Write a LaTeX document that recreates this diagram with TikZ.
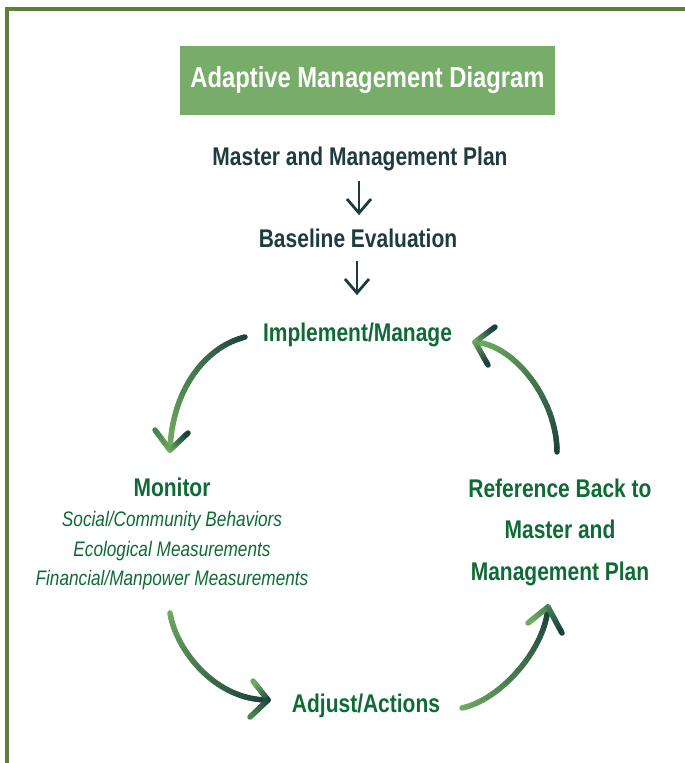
\documentclass[tikz,border=0pt]{standalone}
\usepackage{fontspec}
\setmainfont{Liberation Sans}[FakeStretch=0.82]
\usetikzlibrary{calc}
\definecolor{bordercol}{HTML}{5E7E3A}
\definecolor{titlebg}{HTML}{77AD68}
\definecolor{darktext}{HTML}{1E3B3D}
\definecolor{greentext}{HTML}{0F6A36}
\definecolor{arrdark}{HTML}{1C423D}
\definecolor{arrlight}{HTML}{6EAD60}
\definecolor{arrmid}{HTML}{478552}
% gradient Bezier: start, c1, c2, end, colour at start, colour at end
\newcommand\gradcurve[6]{%
  \foreach \i in {0,...,39}{%
    \pgfmathsetmacro\ta{\i/40}%
    \pgfmathsetmacro\tb{(\i+1)/40}%
    \pgfmathtruncatemacro\pc{100-100*\i/39}%
    \path #1 .. controls #2 and #3 .. #4 coordinate[pos=\ta] (ga) coordinate[pos=\tb] (gb);
    \draw[arrowline, draw=#5!\pc!#6] (ga) -- (gb);
  }}
% gradient straight line: start, end, colour at start, colour at end
\newcommand\gradline[4]{%
  \foreach \i in {0,...,11}{%
    \pgfmathsetmacro\ta{\i/12}%
    \pgfmathsetmacro\tb{(\i+1)/12}%
    \pgfmathtruncatemacro\pc{100-100*\i/11}%
    \draw[arrowline, draw=#3!\pc!#4] ($#1!\ta!#2$) -- ($#1!\tb!#2$);
  }}
\begin{document}
\begin{tikzpicture}[x=1pt, y={(0pt,-1pt)},
  arrowline/.style={line width=5.5pt, line cap=round},
  titlebox/.style={fill=titlebg, text=white, minimum width=375pt, minimum height=69pt,
    inner sep=0pt, font=\bfseries\fontsize{29}{32}\selectfont},
  darklabel/.style={text=darktext, inner sep=0pt, font=\bfseries\fontsize{25.6}{30}\selectfont},
  greenlabel/.style={text=greentext, inner sep=0pt, font=\bfseries\fontsize{25.6}{30}\selectfont},
  itemlabel/.style={text=greentext, inner sep=0pt, font=\itshape\fontsize{21}{25}\selectfont},
  downarrow/.style={draw=darktext, line width=2.8pt}]
\useasboundingbox (0,0) rectangle (685,763);
% frame
\draw[bordercol, line width=4pt] (690,9) -- (6.5,9) -- (6.5,770);
% title
\node[titlebox] (title) at (367.5,80.5) {Adaptive Management Diagram};
% top chain
\node[darklabel, anchor=base] (master) at (360,165) {Master and Management Plan};
\node[darklabel, anchor=base] (baseline) at (358,247) {Baseline Evaluation};
\node[greenlabel, anchor=base] (implement) at (357.5,341) {Implement/Manage};
\coordinate (d1s) at (359,181);
\coordinate (d1t) at (359,213);
\coordinate (d1l) at (347,199);
\coordinate (d1r) at (371,199);
\draw[downarrow] (d1s) -- (d1t);
\draw[downarrow, line join=miter] (d1l) -- (d1t) -- (d1r);
\coordinate (d2s) at (357,261);
\coordinate (d2t) at (357,293);
\coordinate (d2l) at (345,279);
\coordinate (d2r) at (369,279);
\draw[downarrow] (d2s) -- (d2t);
\draw[downarrow, line join=miter] (d2l) -- (d2t) -- (d2r);
% monitor
\node[greenlabel, anchor=base] (monitor) at (172,496) {Monitor};
\node[itemlabel, anchor=base] (mon1) at (172,526) {Social/Community Behaviors};
\node[itemlabel, anchor=base] (mon2) at (172,556) {Ecological Measurements};
\node[itemlabel, anchor=base] (mon3) at (172,585) {Financial/Manpower Measurements};
% reference
\node[greenlabel, anchor=base] (ref1) at (560,497) {Reference Back to};
\node[greenlabel, anchor=base] (ref2) at (560,538) {Master and};
\node[greenlabel, anchor=base] (ref3) at (560,580) {Management Plan};
% adjust
\node[greenlabel, anchor=base] (adjust) at (366,712) {Adjust/Actions};
% arrow A: implement -> monitor
\coordinate (as) at (245,337);
\coordinate (ac1) at (205,347);
\coordinate (ac2) at (172,390);
\coordinate (at) at (170,450);
\coordinate (al) at (155,430);
\coordinate (ar) at (188,433);
\gradcurve{(as)}{(ac1)}{(ac2)}{(at)}{arrdark}{arrlight}
\gradline{(at)}{(al)}{arrlight}{arrmid}
\gradline{(at)}{(ar)}{arrlight}{arrdark}
% arrow B: monitor -> adjust
\coordinate (bs) at (170,613);
\coordinate (bc1) at (176,650);
\coordinate (bc2) at (215,700);
\coordinate (bt) at (268,700);
\coordinate (bu) at (253,681);
\coordinate (bd) at (250,717);
\gradcurve{(bs)}{(bc1)}{(bc2)}{(bt)}{arrlight}{arrdark}
\gradline{(bt)}{(bu)}{arrdark}{arrlight}
\gradline{(bt)}{(bd)}{arrdark}{arrmid}
% arrow C: adjust -> reference
\coordinate (cs) at (462,708);
\coordinate (cc1) at (500,700);
\coordinate (cc2) at (545,650);
\coordinate (ct) at (548,607);
\coordinate (cl) at (528,623);
\coordinate (cr) at (562,633);
\gradcurve{(cs)}{(cc1)}{(cc2)}{(ct)}{arrlight}{arrdark}
\gradline{(ct)}{(cl)}{arrmid}{arrlight}
\gradline{(ct)}{(cr)}{arrmid}{arrdark}
% arrow D: reference -> implement
\coordinate (ds) at (557,452);
\coordinate (dc1) at (557,400);
\coordinate (dc2) at (515,345);
\coordinate (dt) at (475,342);
\coordinate (du) at (495,327);
\coordinate (dd) at (488,365);
\gradcurve{(ds)}{(dc1)}{(dc2)}{(dt)}{arrdark}{arrlight}
\gradline{(dt)}{(du)}{arrlight}{arrdark}
\gradline{(dt)}{(dd)}{arrlight}{arrdark}
\end{tikzpicture}
\end{document}
